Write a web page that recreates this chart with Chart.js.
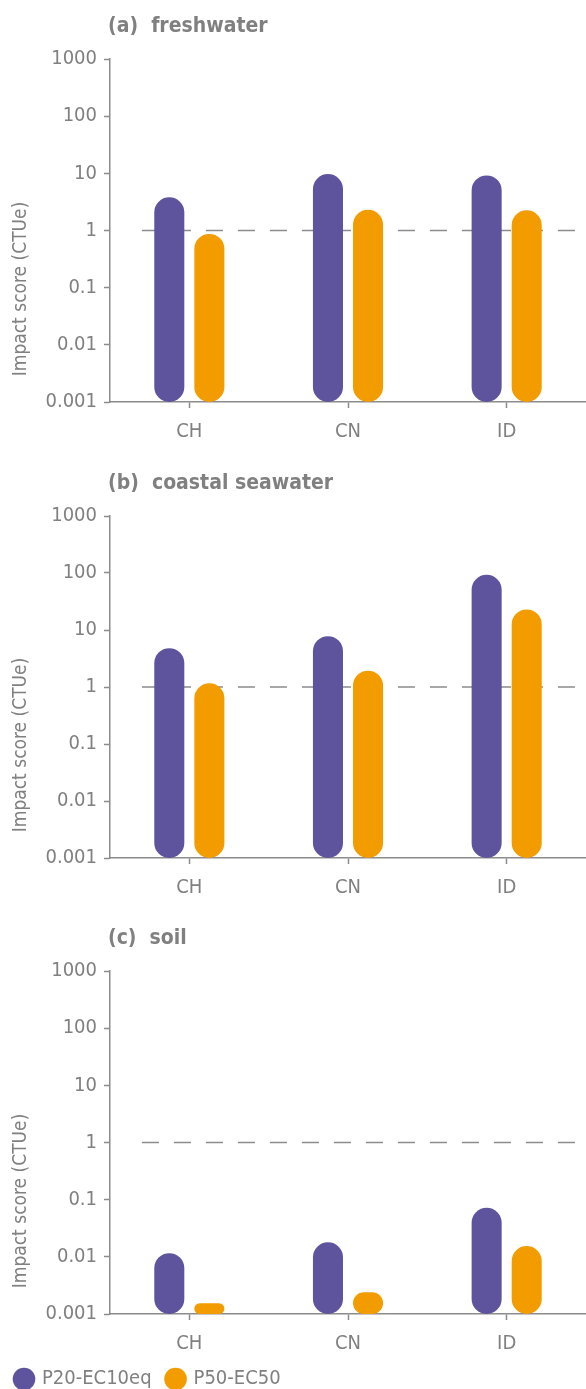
<!DOCTYPE html>
<html>
<head>
<meta charset="utf-8">
<script src="https://cdn.jsdelivr.net/npm/chart.js@4.4.1/dist/chart.umd.min.js"></script>
<style>
  html, body { margin: 0; padding: 0; background: #fff; overflow: hidden; }
  .panel { position: absolute; left: 0; width: 586px; }
</style>
</head>
<body>
<div class="panel" style="top:0;height:456px"><canvas id="chart-a"></canvas></div>
<div class="panel" style="top:456px;height:456px"><canvas id="chart-b"></canvas></div>
<div class="panel" style="top:912px;height:487px"><canvas id="chart-c"></canvas></div>
<script>
const countries = ['CH', 'CN', 'ID'];
const seriesNames = ['P20-EC10eq', 'P50-EC50'];
const yTicks = [0.001, 0.01, 0.1, 1, 10, 100, 1000];
const yTitle = 'Impact score (CTUe)';

// values (CTUe)
const freshP20 = [3.8, 9.7, 9.2];
const freshP50 = [0.87, 2.3, 2.25];
const coastalP20 = [4.8, 7.8, 93];
const coastalP50 = [1.16, 1.93, 23];
const soilP20 = [0.0116, 0.018, 0.072];
const soilP50 = [0.00154, 0.0024, 0.0154];

const purple = '#5e549e';
const orange = '#f39c00';
const grey = '#808080';
const axisGrey = '#8c8c8c';
const font = "'Liberation Sans Narrow', 'DejaVu Sans Condensed', sans-serif";

// panel heading and y axis title, drawn next to the plot area
const panelText = {
  id: 'panelText',
  afterDraw(chart, args, opts) {
    const {ctx, chartArea} = chart;
    ctx.save();
    ctx.fillStyle = grey;
    ctx.font = 'bold 21px ' + font;
    ctx.textBaseline = 'middle';
    ctx.fillText(opts.text, chartArea.left - 2, chartArea.top - 32);

    ctx.font = '19px ' + font;
    ctx.textAlign = 'center';
    ctx.translate(21, chartArea.bottom - 113);
    ctx.rotate(-Math.PI / 2);
    ctx.fillText(yTitle, 0, 0);
    ctx.restore();
  }
};

const refLine = {
  id: 'refLine',
  beforeDatasetsDraw(chart) {
    const {ctx, chartArea} = chart;
    const y = chart.scales.y.getPixelForValue(1);
    ctx.save();
    ctx.strokeStyle = axisGrey;
    ctx.lineWidth = 1.5;
    ctx.setLineDash([17, 15]);
    ctx.beginPath();
    ctx.moveTo(chartArea.left + 32, y);
    ctx.lineTo(chartArea.right, y);
    ctx.stroke();
    ctx.restore();
  }
};

function makeChart(id, title, p20, p50, showLegend, topPad, xHeight) {
  return new Chart(document.getElementById(id), {
    type: 'bar',
    data: {
      labels: countries,
      datasets: [{
        label: seriesNames[0],
        data: p20,
        backgroundColor: purple
      }, {
        label: seriesNames[1],
        data: p50,
        backgroundColor: orange
      }]
    },
    options: {
      responsive: true,
      maintainAspectRatio: false,
      animation: false,
      layout: { padding: { top: topPad, right: 0, left: 0, bottom: 0 } },
      datasets: {
        bar: {
          categoryPercentage: 0.505,
          barPercentage: 0.75,
          borderRadius: 15,
          borderSkipped: false
        }
      },
      scales: {
        x: {
          grid: { drawOnChartArea: false, offset: false, tickLength: 6, tickColor: axisGrey, tickWidth: 1.5 },
          border: { color: axisGrey, width: 1.5 },
          ticks: { color: grey, font: { family: font, size: 20 }, padding: 12 },
          afterFit(scale) { scale.height = xHeight; }
        },
        y: {
          type: 'logarithmic',
          min: 0.001,
          max: 1000,
          afterBuildTicks(scale) { scale.ticks = yTicks.map(v => ({ value: v })); },
          grid: { drawOnChartArea: false, tickLength: 6, tickColor: axisGrey, tickWidth: 1.5 },
          border: { color: axisGrey, width: 1.5 },
          ticks: {
            color: grey,
            font: { family: font, size: 20 },
            padding: 7,
            callback: v => String(v)
          },
          afterFit(scale) { scale.width = 110; }
        }
      },
      plugins: {
        panelText: { text: title },
        tooltip: { enabled: false },
        legend: {
          display: showLegend,
          position: 'bottom',
          align: 'start',
          labels: {
            usePointStyle: true,
            pointStyle: 'circle',
            boxWidth: 16,
            boxHeight: 16,
            padding: 16,
            color: grey,
            font: { family: font, size: 20 }
          }
        }
      }
    },
    plugins: [panelText, refLine]
  });
}

makeChart('chart-a', '(a)  freshwater', freshP20, freshP50, false, 59, 54);
makeChart('chart-b', '(b)  coastal seawater', coastalP20, coastalP50, false, 60, 54);
makeChart('chart-c', '(c)  soil', soilP20, soilP50, true, 59, 39);
</script>
</body>
</html>
